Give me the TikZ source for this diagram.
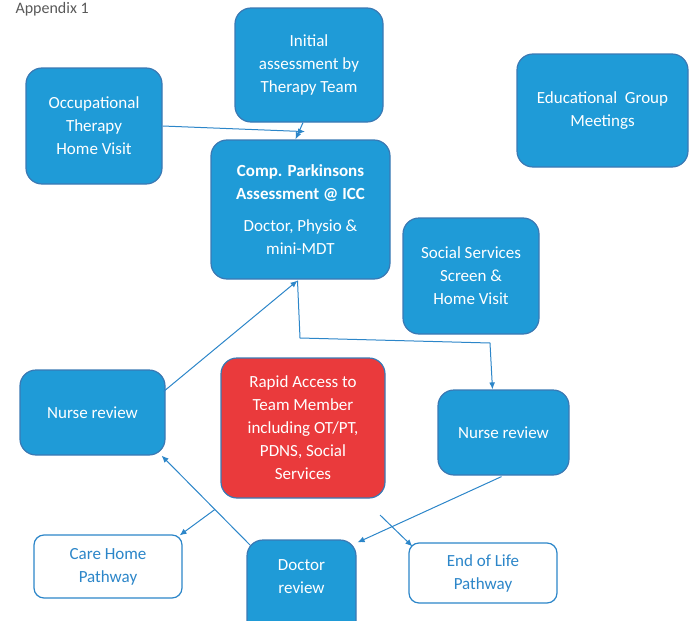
\documentclass[tikz,border=0pt]{standalone}
\usepackage{fontspec}
\setmainfont{Carlito}
\usepackage{xcolor}
\usepackage{tikz}
\usetikzlibrary{arrows.meta, positioning, calc}
\definecolor{boxblue}{HTML}{1F9BD7}
\definecolor{edgeblue}{HTML}{3A79B4}
\definecolor{boxred}{HTML}{EA3A3C}
\definecolor{lineblue}{HTML}{2C86C9}
\tikzstyle{carebox} = [
    rectangle, draw=edgeblue, fill=boxblue, line width=1.2pt,
    rounded corners=16pt, text=white, align=center, inner sep=0pt,
    font=\fontsize{17}{23}\selectfont
]
\tikzstyle{alertbox} = [carebox, fill=boxred]
\tikzstyle{pathbox} = [carebox, fill=white, draw=lineblue, text=lineblue, rounded corners=10pt]
\tikzstyle{arrow} = [draw=lineblue, line width=1pt, -{Latex[length=7pt,width=6pt]}]

\begin{document}
\begin{tikzpicture}[x=1pt, y=-1pt]
    \useasboundingbox (0,0) rectangle (694,621);
    \node [anchor=base west, text=black!65, font=\fontsize{16}{18}\selectfont] (title) at (12,13) {Appendix 1};

    \node [carebox, minimum width=136pt, minimum height=116pt] (ot) at (94,126) {Occupational\\Therapy\\Home Visit};
    \node [carebox, minimum width=148pt, minimum height=114pt] (init) at (309,65) {Initial\\assessment by\\Therapy Team};
    \node [carebox, minimum width=179pt, minimum height=139pt] (comp) at (300.5,209.5)
        {\textbf{Comp. Parkinsons}\\\textbf{Assessment @ ICC}\\[9pt]Doctor, Physio \&\\mini-MDT};
    \node [carebox, minimum width=171pt, minimum height=113pt] (edu) at (602.5,110.5) {Educational~~Group\\Meetings};
    \node [carebox, minimum width=136pt, minimum height=116pt] (soc) at (471,276) {Social Services\\Screen \&\\Home Visit};
    \node [carebox, minimum width=145pt, minimum height=85pt] (nl) at (92.5,412.5) {Nurse review};
    \node [alertbox, minimum width=164pt, minimum height=140pt] (rapid) at (303,428)
        {Rapid Access to\\Team Member\\including OT/PT,\\PDNS, Social\\Services};
    \node [carebox, minimum width=109pt, minimum height=100pt] (doc) at (301.5,590) {Doctor\\review\\[4pt]};
    \node [carebox, minimum width=131pt, minimum height=85pt] (nr) at (503.5,432.5) {Nurse review};
    \node [pathbox, minimum width=148pt, minimum height=63pt] (care) at (108,566.5) {Care Home\\Pathway};
    \node [pathbox, minimum width=148pt, minimum height=60pt] (eol) at (483,573) {End of Life\\Pathway};

    \coordinate (cb) at ($(comp.south)+(-3,1)$);
    \coordinate (k1) at (300,338);
    \coordinate (k2) at (490,343);
    \coordinate (dl) at ($(doc.north west)+(4,6)$);
    \coordinate (nlc) at ($(nl.south east)+(-4,0)$);
    \coordinate (cbranch) at ($(dl)!0.4!(nlc)$);
    \coordinate (eolin) at (380,515);

    \path [arrow] (ot.east) -- ($(init.south)+(-4,9)$);
    \path [arrow] ($(init.south)+(-6,0)$) -- ($(comp.north)+(-5,0)$);
    \path [arrow] ($(nl.east)+(-2,-21)$) -- (cb);
    \path [arrow] (cb) -- (k1) -- (k2) -- ($(nr.north)+(-11,0)$);
    \path [arrow] (dl) -- (nlc);
    \path [arrow] (cbranch) -- ($(care.north east)+(-3,1)$);
    \path [arrow] ($(nr.south)+(-2,1)$) -- ($(doc.north east)+(1,3)$);
    \path [arrow] (eolin) -- ($(eol.north west)+(4,4)$);
\end{tikzpicture}
\end{document}
